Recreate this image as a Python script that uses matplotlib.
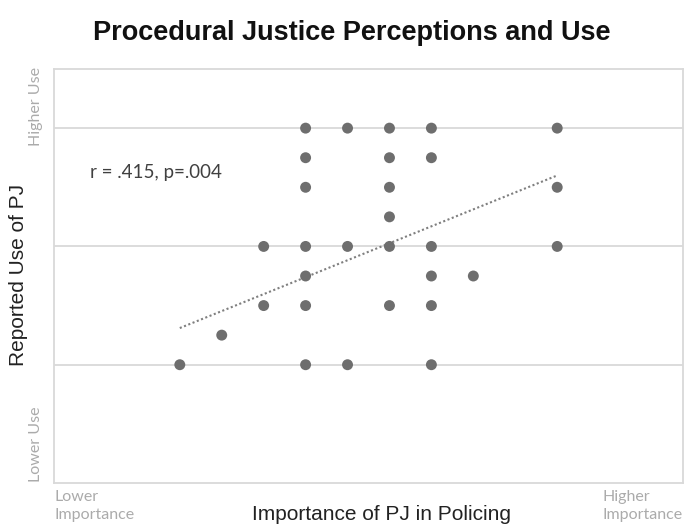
import numpy as np
import matplotlib
matplotlib.use("Agg")
import matplotlib.pyplot as plt

# importance of PJ (x) and reported use (y), one entry per visible dot
importance = [1.5, 1.75, 2.0, 2.25, 3.0,
              1.5, 2.0, 2.25,
              1.5, 2.0, 3.0,
              2.0,
              1.25, 1.5, 1.75, 2.0, 2.25, 3.0,
              1.5, 2.25, 2.5,
              1.25, 1.5, 2.0, 2.25,
              1.0,
              0.75, 1.5, 1.75, 2.25]
use = [3.0, 3.0, 3.0, 3.0, 3.0,
       2.75, 2.75, 2.75,
       2.5, 2.5, 2.5,
       2.25,
       2.0, 2.0, 2.0, 2.0, 2.0, 2.0,
       1.75, 1.75, 1.75,
       1.5, 1.5, 1.5, 1.5,
       1.25,
       1.0, 1.0, 1.0, 1.0]

# linear trend line end points
trend_x = [0.75, 3.0]
trend_y = [1.31, 2.60]

grid_y = [1, 2, 3]

fig = plt.figure(figsize=(6.89, 5.26), dpi=100)
ax = fig.add_axes([54/689, 43/526, 629/689, 414/526])

for g in grid_y:
    ax.axhline(g, color="#d9d9d9", lw=1.3, zorder=0)

ax.plot(trend_x, trend_y, color="#7f7f7f", lw=1.5, ls=(0, (1, 1.2)), zorder=2)
ax.scatter(importance, use, s=62, color="#6e6e6e", edgecolors="none", zorder=3)

ax.set_xlim(0, 3.75)
ax.set_ylim(0, 3.5)
ax.set_xticks([])
ax.set_yticks([])
for sp in ax.spines.values():
    sp.set_color("#d9d9d9")
    sp.set_linewidth(1.3)

fig.text(352/689, 1 - 33/526, "Procedural Justice Perceptions and Use",
         ha="center", va="center", fontsize=19.5, fontweight="bold",
         family="Liberation Sans", color="#111111")

fig.text(19/689, 1 - 275/526, "Reported Use of PJ", rotation=90,
         ha="center", va="center", fontsize=15, family="Liberation Sans",
         color="#222222")
fig.text(381/689, 1 - 514/526, "Importance of PJ in Policing",
         ha="center", va="center", fontsize=15, family="Liberation Sans",
         color="#222222")

small = dict(fontsize=11.5, family="Lato", color="#ababab")
fig.text(36/689, 1 - 67/526, "Higher Use", rotation=90, ha="center", va="top", **small)
fig.text(36/689, 1 - 482/526, "Lower Use", rotation=90, ha="center", va="bottom", **small)
fig.text(54/689, 1 - 490/526, "Lower\nImportance", ha="left", va="top",
         linespacing=1.35, **small)
fig.text(683/689, 1 - 490/526, "Higher\nImportance", ha="right", va="top",
         linespacing=1.35, multialignment="left", **small)

ax.text((90 - 54) / 629, (483 - 172) / 414, "r = .415, p=.004",
        transform=ax.transAxes, ha="left", va="center", fontsize=13.5,
        family="Lato", color="#404040")

fig.savefig("out.png", dpi=100)
